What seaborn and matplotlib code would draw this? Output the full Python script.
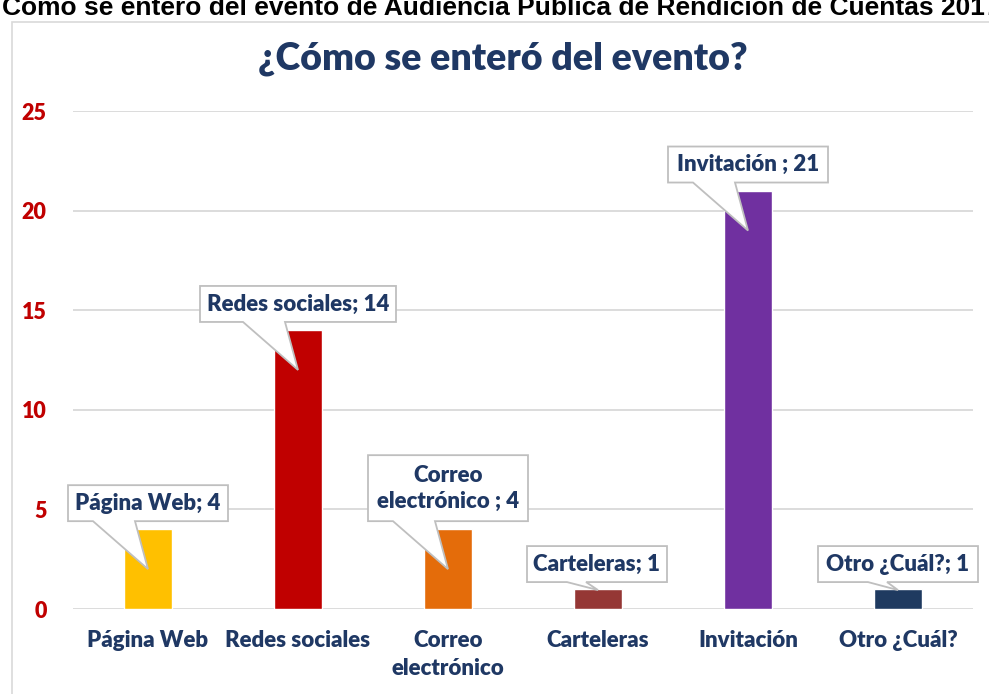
import matplotlib
matplotlib.use("Agg")
import matplotlib.pyplot as plt
import seaborn as sns
import pandas as pd
import numpy as np
from matplotlib.patches import Polygon, Rectangle

categories = ["Página Web", "Redes sociales", "Correo\nelectrónico", "Carteleras", "Invitación", "Otro ¿Cuál?"]
values = [4, 14, 4, 1, 21, 1]
callout_texts = ["Página Web; 4", "Redes sociales; 14", "Correo\nelectrónico ; 4", "Carteleras; 1", "Invitación ; 21", "Otro ¿Cuál?; 1"]
colors = ["#FFC000", "#C00000", "#E46C0A", "#953735", "#7030A0", "#1F3A60"]
yticks = [0, 5, 10, 15, 20, 25]

NAVY = "#1F3864"
RED = "#C00000"
GRID = "#D9D9D9"
FONT = ["Lato", "DejaVu Sans"]
WEIGHT = 800

sns.set_theme(style="white")
plt.rcParams['font.family'] = FONT

W, H = 989, 694
fig = plt.figure(figsize=(W / 100, H / 100), dpi=100)

# outer frame
fig.add_artist(Rectangle((12 / W, -0.1), 1.1, (H - 22) / H + 0.1, transform=fig.transFigure,
                         fill=False, edgecolor=GRID, lw=1.2))
fig.text(2 / W, 1 - 15 / H, "Cómo se enteró del evento de Audiencia Pública de Rendición de Cuentas 2017",
         ha="left", va="baseline", fontsize=19, fontweight="bold", color="black",
         family=["Liberation Sans", "DejaVu Sans"])

ax = fig.add_axes([73 / W, (H - 609) / H, 900 / W, 498 / H])
df = pd.DataFrame({"cat": categories, "val": values})
sns.barplot(data=df, x="cat", y="val", hue="cat", palette=colors, width=0.32,
            legend=False, ax=ax, saturation=1, zorder=3)
ax.set_ylim(0, 25)
ax.set_xlim(-0.5, len(categories) - 0.5)
ax.set_yticks(yticks)
ax.grid(axis="y", color=GRID, lw=1.3, zorder=0)
ax.set_axisbelow(True)
for s in ax.spines.values():
    s.set_visible(False)
ax.set_xlabel("")
ax.set_ylabel("")
ax.tick_params(axis="y", length=0, pad=19)
ax.tick_params(axis="x", length=0, pad=15)
for lbl in ax.get_yticklabels():
    lbl.set_fontproperties({"family": FONT, "weight": WEIGHT, "size": 15.5})
    lbl.set_color(RED)
for lbl in ax.get_xticklabels():
    lbl.set_fontproperties({"family": FONT, "weight": WEIGHT, "size": 16})
    lbl.set_color(NAVY)
    lbl.set_linespacing(1.4)

ax.set_title("¿Cómo se enteró del evento?", fontsize=27, fontweight=WEIGHT, family=FONT,
             color=NAVY, pad=30, x=0.478)

# callouts
inv = ax.transAxes.inverted()
for i, (v, txt) in enumerate(zip(values, callout_texts)):
    tip_val = v - 2 if v >= 4 else v * 0.95
    tx, ty = ax.transData.transform((i, tip_val))
    two_lines = "\n" in txt
    gap = 48 if v >= 4 else 8
    if i == 1:
        bw = 196
    elif i == 3:
        bw = 140
    else:
        bw = 160
    bh = 66 if two_lines else 36
    bottom = ty + gap
    cx = tx
    if i == 3:
        cx = tx - 1
    left, right = cx - bw / 2, cx + bw / 2
    top = bottom + bh
    if v >= 4:
        b1, b2 = cx - 55, cx - 13
    else:
        b1, b2 = cx - 30, cx - 11
    pts = [(left, bottom), (b1, bottom), (tx, ty), (b2, bottom), (right, bottom), (right, top), (left, top)]
    pts = inv.transform(pts)
    poly = Polygon(pts, closed=True, transform=ax.transAxes, facecolor="white", edgecolor="#BFBFBF",
                   lw=1.3, zorder=5, clip_on=False)
    ax.add_patch(poly)
    c = inv.transform([(cx, (bottom + top) / 2)])[0]
    ax.text(c[0], c[1], txt, transform=ax.transAxes, ha="center", va="center", fontsize=16,
            fontweight=WEIGHT, family=FONT, color=NAVY, zorder=6, linespacing=1.3)

fig.savefig("out.png", dpi=100)
